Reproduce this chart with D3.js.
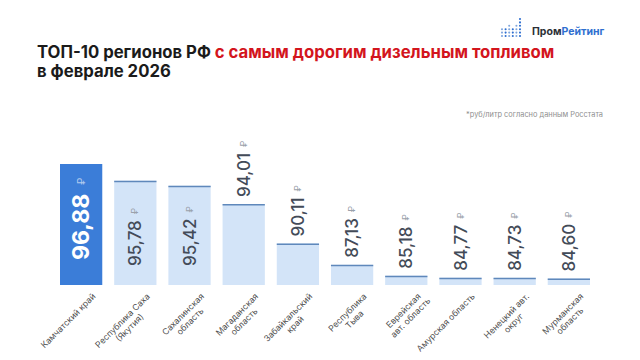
<!DOCTYPE html>
<html>
<head>
<meta charset="utf-8">
<script src="https://cdn.jsdelivr.net/npm/d3@7"></script>
<style>
  body { margin: 0; background: #fff; }
  svg { display: block; font-family: Inter, 'DejaVu Sans', sans-serif; }
</style>
</head>
<body>
<div id="viz"></div>
<script>
const regions = [
  ['Камчатский край'],
  ['Республика Саха', '(Якутия)'],
  ['Сахалинская', 'область'],
  ['Магаданская', 'область'],
  ['Забайкальский', 'край'],
  ['Республика', 'Тыва'],
  ['Еврейская', 'авт. область'],
  ['Амурская область'],
  ['Ненецкий авт.', 'округ'],
  ['Мурманская', 'область']
];
const prices = [96.88, 95.78, 95.42, 94.01, 90.11, 87.13, 85.18, 84.77, 84.73, 84.60];
const logoDots = [3, 3, 4, 3, 4, 6];

const width = 640;
const height = 360;
const baseY = 285;

const svg = d3.select('#viz')
  .append('svg')
  .attr('width', width)
  .attr('height', height);

// logo
const logo = svg.append('g').attr('transform', 'translate(502, 36)');
logoDots.forEach((n, c) => {
  d3.range(n).forEach((k) => {
    logo.append('circle')
      .attr('cx', c * 3.6)
      .attr('cy', -k * 3.4)
      .attr('r', 1.05)
      .attr('fill', c % 2 ? '#2f6fd0' : '#7fa6de');
  });
});
const logoText = svg.append('text')
  .attr('x', 532)
  .attr('y', 35)
  .attr('font-size', 10.5)
  .attr('font-weight', 700);
logoText.append('tspan').attr('fill', '#2b2f36').text('Пром');
logoText.append('tspan').attr('fill', '#2f6fd0').text('Рейтинг');

// title
const title = svg.append('text')
  .attr('x', 37)
  .attr('y', 58)
  .attr('font-size', 16.7)
  .attr('font-weight', 700);
title.append('tspan').attr('fill', '#1b1b1b').text('ТОП-10 регионов РФ ');
title.append('tspan').attr('fill', '#d3151d').text('с самым дорогим дизельным топливом');
svg.append('text')
  .attr('x', 37)
  .attr('y', 77)
  .attr('font-size', 16.7)
  .attr('font-weight', 700)
  .attr('fill', '#1b1b1b')
  .text('в феврале 2026');

svg.append('text')
  .attr('x', 603)
  .attr('y', 117)
  .attr('text-anchor', 'end')
  .attr('font-size', 7.4)
  .attr('fill', '#8f8f8f')
  .text('*руб/литр согласно данным Росстата');

const x = d3.scaleBand()
  .domain(d3.range(prices.length))
  .range([60, 590])
  .paddingInner(0.22);

const y = d3.scalePow()
  .exponent(10)
  .domain([83.1, d3.max(prices)])
  .range([baseY, 164]);

const bars = svg.append('g')
  .selectAll('g')
  .data(prices)
  .enter().append('g');

bars.append('rect')
  .attr('x', (d, i) => x(i))
  .attr('y', (d) => y(d))
  .attr('width', x.bandwidth())
  .attr('height', (d) => baseY - y(d))
  .attr('fill', (d, i) => i === 0 ? '#3b7dd8' : '#d3e4f8');

bars.filter((d, i) => i > 0)
  .append('line')
  .attr('x1', (d, i) => x(i + 1))
  .attr('x2', (d, i) => x(i + 1) + x.bandwidth())
  .attr('y1', (d) => y(d) + 0.75)
  .attr('y2', (d) => y(d) + 0.75)
  .attr('stroke', '#5f88bb')
  .attr('stroke-width', 1.5);

// value labels
const fmt = (v) => v.toFixed(2).replace('.', ',');

bars.each(function (d, i) {
  const inside = d >= 95;
  const cx = x(i) + x.bandwidth() / 2;
  const big = i === 0;
  const startY = inside ? baseY - (big ? 25 : 19) : y(d) - 7;
  const fs = big ? 23 : 17;
  const t = d3.select(this).append('text')
    .attr('transform', `translate(${cx + fs * 0.36}, ${startY}) rotate(-90)`)
    .attr('font-size', fs)
    .attr('font-weight', big ? 700 : 500)
    .attr('fill', big ? '#ffffff' : '#434b58');
  t.append('tspan').text(fmt(d));
  t.append('tspan')
    .attr('dx', big ? 9 : 6)
    .attr('font-size', big ? 10 : 9)
    .attr('font-weight', 400)
    .attr('fill', big ? 'rgba(255,255,255,0.6)' : '#9aa1ab')
    .attr('dy', big ? -4 : -3)
    .text('₽');
});

// category labels
const cats = svg.append('g')
  .selectAll('g')
  .data(regions)
  .enter().append('g')
  .attr('transform', (d, i) => `translate(${x(i) + x.bandwidth() / 2 + 15}, 297) rotate(-45)`)
  .attr('font-size', 8.6)
  .attr('fill', '#505050');

cats.each(function (lines) {
  const g = d3.select(this);
  const first = g.append('text').attr('text-anchor', 'end').text(lines[0]);
  const w = first.node().getComputedTextLength();
  if (lines[1]) {
    g.append('text')
      .attr('text-anchor', 'middle')
      .attr('x', -w / 2)
      .attr('y', 10)
      .text(lines[1]);
  }
});
</script>
</body>
</html>
